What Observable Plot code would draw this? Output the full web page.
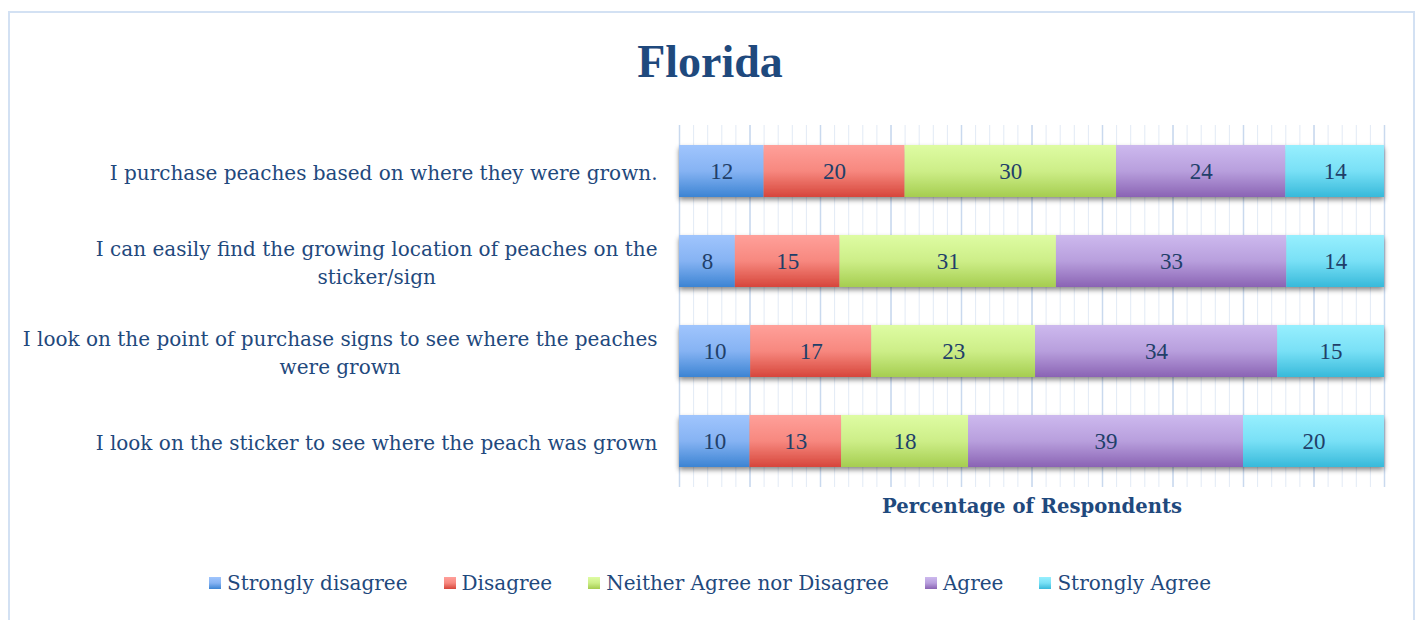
<!DOCTYPE html>
<html><head><meta charset="utf-8">
<script src="https://cdn.jsdelivr.net/npm/d3@7"></script>
<script src="https://cdn.jsdelivr.net/npm/@observablehq/plot@0.6"></script>
<style>
body{margin:0;background:#fff;width:1420px;height:620px;overflow:hidden;position:relative;font-family:"DejaVu Serif",serif;color:#1f497d}
#frame{position:absolute;left:8px;top:11px;width:1407px;height:640px;border:2px solid #d3e1f3;box-sizing:border-box}
#title{position:absolute;left:0;width:1420px;top:36px;text-align:center;font-family:"Liberation Serif",serif;font-weight:bold;font-size:46px;line-height:52px}
#chart{position:absolute;left:0;top:100px}
#legend{position:absolute;left:0;width:1420px;top:570px;display:flex;justify-content:center;gap:36px;font-size:20px;line-height:26px}
.item{display:flex;align-items:center}
.sw{width:12px;height:12px;margin-right:6px}
</style></head><body>
<div id="frame"></div>
<div id="title">Florida</div>
<div id="chart"></div>
<div id="legend"></div>
<script>
const statements = [
  "I purchase peaches based on where they were grown.",
  "I can easily find the growing location of peaches on the sticker/sign",
  "I look on the point of purchase signs to see where the peaches were grown",
  "I look on the sticker to see where the peach was grown"
];
const statementLabels = [
  "I purchase peaches based on where they were grown.",
  "I can easily find the growing location of peaches on the\nsticker/sign",
  "I look on the point of purchase signs to see where the peaches\nwere grown",
  "I look on the sticker to see where the peach was grown"
];
const responses = ["Strongly disagree", "Disagree", "Neither Agree nor Disagree", "Agree", "Strongly Agree"];
const purchaseByOrigin = [12, 20, 30, 24, 14];
const findLocationOnSticker = [8, 15, 31, 33, 14];
const lookAtPurchaseSigns = [10, 17, 23, 34, 15];
const lookAtSticker = [10, 13, 18, 39, 20];
const seriesByStatement = [purchaseByOrigin, findLocationOnSticker, lookAtPurchaseSigns, lookAtSticker];

const gradTop = ["#a0c5fd", "#ffa09a", "#defca3", "#cdb9ee", "#97effe"];
const gradMid = ["#86b3f3", "#f7887f", "#cdee88", "#b89fdd", "#79e0f6"];
const gradBot = ["#3c84d3", "#d6463b", "#a5cd50", "#8a63b4", "#38b9da"];

const rows = statements.flatMap((s, i) => responses.map((r, j) => ({statement: s, response: r, value: seriesByStatement[i][j]})));

const plot = Plot.plot({
  width: 1420, height: 430,
  marginLeft: 679, marginRight: 36, marginTop: 25, marginBottom: 43,
  style: {fontFamily: "DejaVu Serif, serif", fontSize: "20px", color: "#1f497d", background: "transparent"},
  x: {domain: [0, 1], axis: null},
  y: {domain: statements, paddingInner: 0.425, paddingOuter: 0.2125, axis: null},
  color: {domain: responses, range: responses.map((d, i) => `url(#grad${i})`)},
  marks: [
    Plot.ruleX(d3.range(0, 1.0001, 0.02), {stroke: "#e2eaf5", strokeWidth: 1}),
    Plot.ruleX(d3.range(0, 1.0001, 0.1), {stroke: "#c9d9ee", strokeWidth: 1.5}),
    Plot.barX(rows, Plot.stackX({x: "value", y: "statement", fill: "response", order: responses, offset: "normalize"})),
    Plot.text(rows, Plot.stackX({x: "value", y: "statement", z: "response", text: d => String(d.value), order: responses, offset: "normalize", fontSize: 23, fontFamily: "Liberation Serif, serif", fill: "#213f69"})),
    Plot.axisY({tickSize: 0, tickPadding: 22, label: null, tickFormat: d => statementLabels[statements.indexOf(d)], fontSize: 20, lineHeight: 1.4, fill: "#1f497d"}),
    Plot.axisX({ticks: [], tickSize: 0, label: "Percentage of Respondents", labelAnchor: "center", labelArrow: "none", labelOffset: 25, fill: "#1f497d"})
  ]
});

const ns = "http://www.w3.org/2000/svg";
const defs = document.createElementNS(ns, "defs");
let html = "";
responses.forEach((r, i) => {
  html += `<linearGradient id="grad${i}" x1="0" y1="0" x2="0" y2="1">
    <stop offset="0" stop-color="${gradTop[i]}"/><stop offset="0.5" stop-color="${gradMid[i]}"/><stop offset="1" stop-color="${gradBot[i]}"/></linearGradient>`;
});
html += `<filter id="shadow" x="-5%" y="-20%" width="110%" height="160%"><feDropShadow dx="0" dy="3" stdDeviation="2.5" flood-color="#000" flood-opacity="0.45"/></filter>`;
defs.innerHTML = html;
plot.insertBefore(defs, plot.firstChild);
const barG = plot.querySelector('g[aria-label="bar"]');
if (barG) barG.setAttribute("filter", "url(#shadow)");
const lbl = plot.querySelector('g[aria-label="x-axis label"]');
if (lbl) { lbl.setAttribute("font-weight", "bold"); lbl.setAttribute("font-size", "19.6"); }
document.getElementById("chart").appendChild(plot);

// center-align wrapped y tick labels (as in the original), keeping the right edge
plot.querySelectorAll('g[aria-label="y-axis tick label"] text').forEach(t => {
  const spans = t.querySelectorAll("tspan");
  if (spans.length < 2) return;
  const bb = t.getBBox();
  t.setAttribute("text-anchor", "middle");
  spans.forEach(s => s.setAttribute("x", bb.x + bb.width / 2));
});

const legend = document.getElementById("legend");
responses.forEach((r, i) => {
  const item = document.createElement("div");
  item.className = "item";
  const sw = document.createElement("span");
  sw.className = "sw";
  sw.style.background = `linear-gradient(${gradTop[i]}, ${gradMid[i]} 50%, ${gradBot[i]})`;
  const t = document.createElement("span");
  t.textContent = r;
  item.append(sw, t);
  legend.appendChild(item);
});
</script>
</body></html>
